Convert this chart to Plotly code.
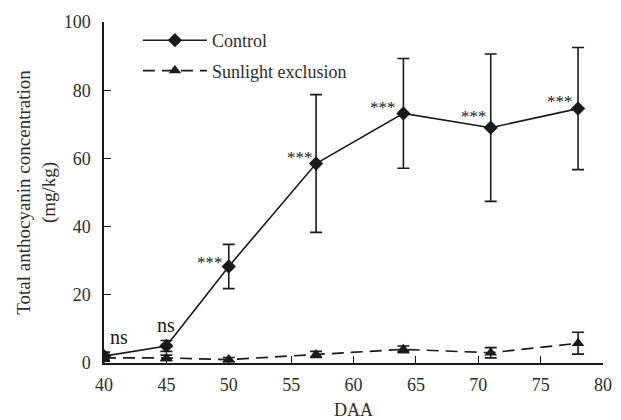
import plotly.graph_objects as go

daa = [40, 45, 50, 57, 64, 71, 78]
control = [2.0, 5.0, 28.3, 58.5, 73.2, 69.0, 74.6]
control_err = [1.2, 1.6, 6.5, 20.2, 16.1, 21.6, 17.9]
sunlight = [1.5, 1.5, 1.0, 2.5, 4.0, 3.0, 5.8]
sunlight_err = [1.0, 0.8, 0.6, 0.9, 1.0, 1.5, 3.2]
sig_labels = ["ns", "ns", "***", "***", "***", "***", "***"]

x_ticks = [40, 45, 50, 55, 60, 65, 70, 75, 80]
y_ticks = [0, 20, 40, 60, 80, 100]

ink = "#1a1a1a"
txt = "#2e2e2e"
font_family = "Liberation Serif, Times New Roman, serif"

# label offsets (px) relative to the control marker
label_dx = [15, 0, -19, -16, -20, -17, -18]
label_dy = [19, 21, 4, 6, 6, 11, 7]

fig = go.Figure()
fig.add_trace(go.Scatter(
    x=daa, y=control, name="Control", mode="lines+markers", legendgroup="c",
    line=dict(color=ink, width=1.6),
    marker=dict(symbol="diamond", size=11, color=ink),
    error_y=dict(type="data", array=control_err, visible=True,
                 color=ink, thickness=1.6, width=6),
))
fig.add_trace(go.Scatter(
    x=daa, y=sunlight, name="Sunlight exclusion", mode="lines+markers",
    legendgroup="s",
    line=dict(color=ink, width=1.7, dash="12px,7px"),
    marker=dict(symbol="triangle-up", size=11, color=ink),
    error_y=dict(type="data", array=sunlight_err, visible=True,
                 color=ink, thickness=1.6, width=6),
))

for xv, yv, lab, dx, dy in zip(daa, control, sig_labels, label_dx, label_dy):
    size = 20 if lab == "ns" else 17
    fig.add_annotation(x=xv, y=yv, text=lab, showarrow=False,
                       xshift=dx, yshift=dy,
                       font=dict(family=font_family, size=size, color=ink))

fig.update_layout(
    width=613, height=412,
    margin=dict(l=96, r=18, t=14, b=57),
    paper_bgcolor="white", plot_bgcolor="white",
    font=dict(family=font_family, size=18, color=txt),
    showlegend=True,
    legend=dict(x=0.068, y=1.0, xanchor="left", yanchor="top",
                bgcolor="rgba(0,0,0,0)", itemwidth=64,
                font=dict(family=font_family, size=18, color=txt),
                tracegroupgap=4),
    xaxis=dict(range=[40, 80], tickvals=x_ticks, ticks="inside", ticklen=7,
               tickwidth=1.3, tickcolor=ink, showline=True, linecolor=ink,
               linewidth=1.5, showgrid=False, zeroline=False, automargin=False,
               ticklabelstandoff=5,
               tickfont=dict(family=font_family, size=18, color=txt),
               title=dict(text="DAA", standoff=10,
                          font=dict(family=font_family, size=18, color=txt))),
    yaxis=dict(range=[0, 100], tickvals=y_ticks, ticks="inside", ticklen=7,
               tickwidth=1.3, tickcolor=ink, showline=True, linecolor=ink,
               linewidth=1.5, showgrid=False, zeroline=False, automargin=False,
               ticklabelstandoff=8,
               tickfont=dict(family=font_family, size=18, color=txt),
               title=dict(text="Total anthocyanin concentration<br>(mg/kg)",
                          standoff=3,
                          font=dict(family=font_family, size=19, color=txt))),
)

fig.write_html("out.html")
